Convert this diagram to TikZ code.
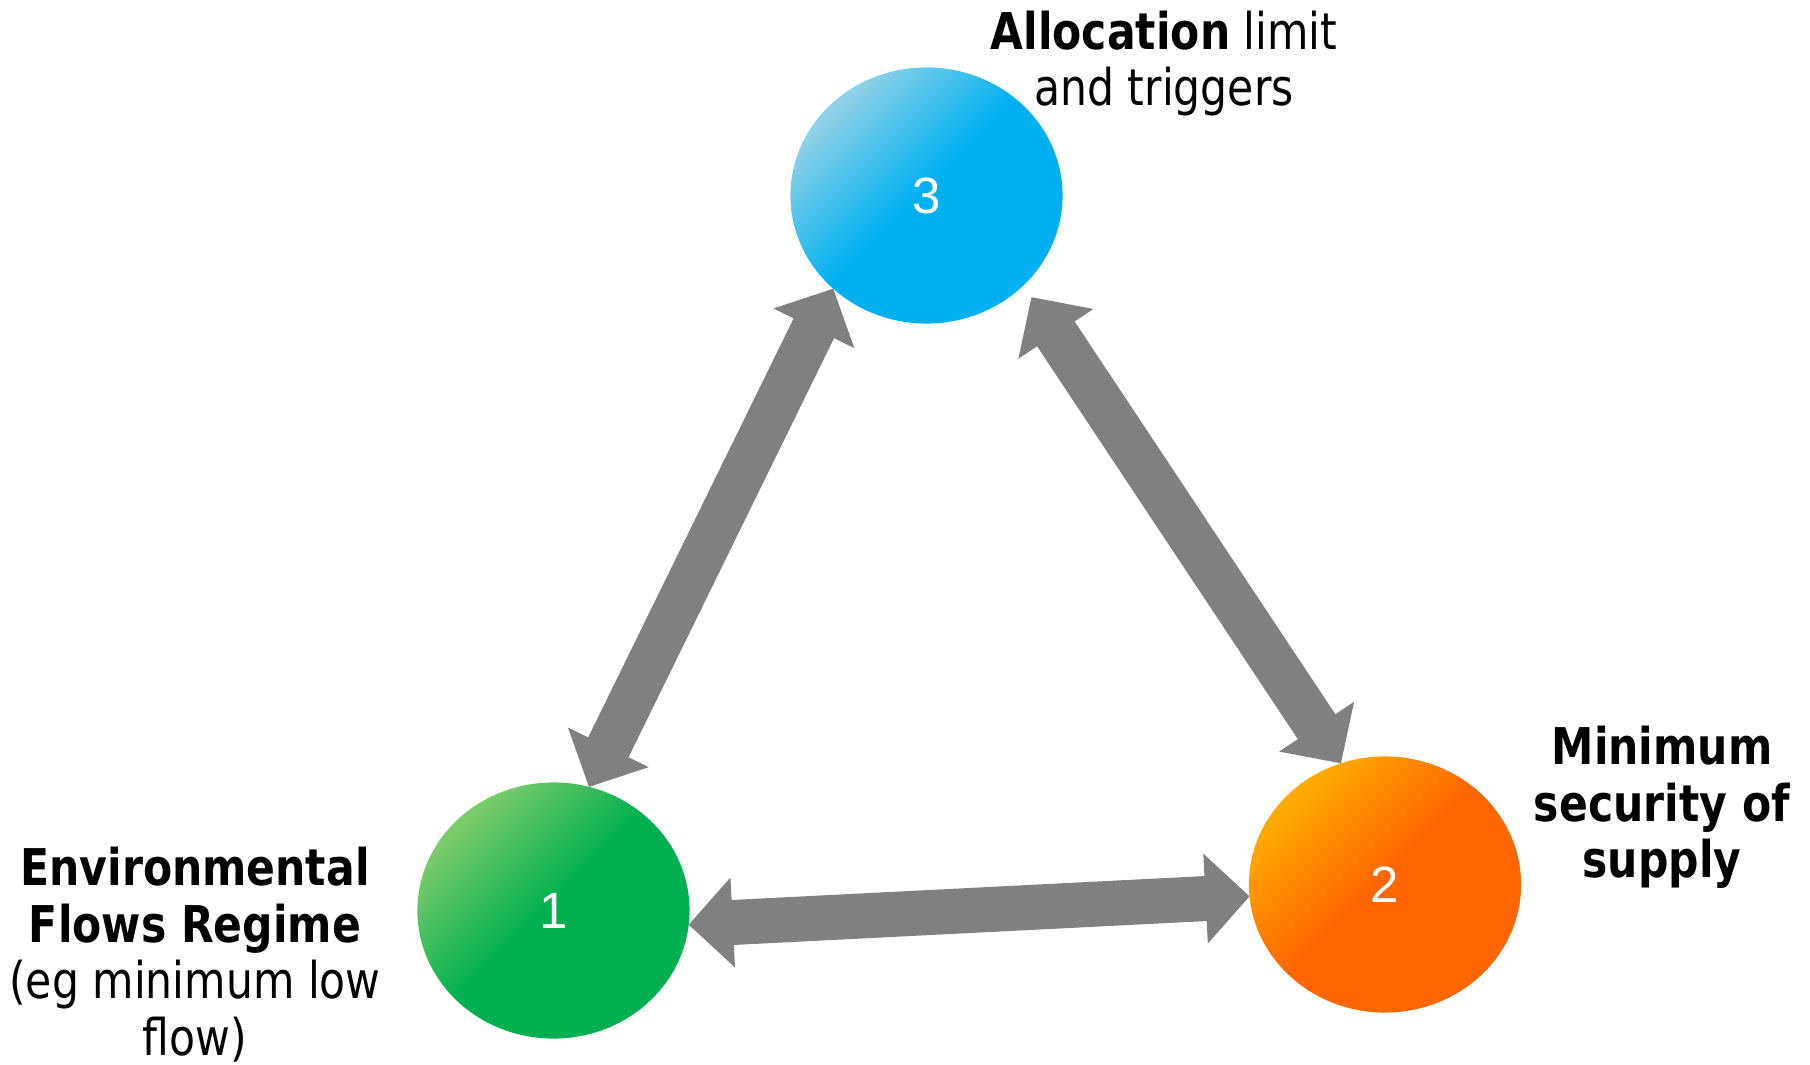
\documentclass[tikz,border=0pt]{standalone}
\usepackage{fontspec}
\setmainfont{Liberation Sans}
\newfontfamily\labelfont[FakeStretch=0.84]{DejaVu Sans}
\usetikzlibrary{shapes.geometric,calc}

% ball colours: light highlight and full tone
\definecolor{skylight}{HTML}{8ED1E8}
\definecolor{skyfull}{HTML}{00B0F0}
\definecolor{leaflight}{HTML}{7ACB6A}
\definecolor{leaffull}{HTML}{00B050}
\definecolor{emberlight}{HTML}{FFAA00}
\definecolor{emberfull}{HTML}{FF6600}
\definecolor{arrowgrey}{HTML}{808080}

\pgfdeclarehorizontalshading{skyball}{100bp}{color(0bp)=(skylight); color(26bp)=(skylight); color(49bp)=(skyfull); color(100bp)=(skyfull)}
\pgfdeclarehorizontalshading{leafball}{100bp}{color(0bp)=(leaflight); color(26bp)=(leaflight); color(49bp)=(leaffull); color(100bp)=(leaffull)}
\pgfdeclarehorizontalshading{emberball}{100bp}{color(0bp)=(emberlight); color(26bp)=(emberlight); color(49bp)=(emberfull); color(100bp)=(emberfull)}

\tikzset{
  ball/.style={ellipse, minimum width=2.72cm, minimum height=2.56cm,
    inner sep=0pt, outer sep=0pt, shade, shading angle=-45, text=white,
    font=\fontsize{14.5}{14.5}\selectfont},
  caption/.style={anchor=north, inner sep=0pt, align=center,
    font=\labelfont\fontsize{14.4}{16.07}\selectfont},
  flowarrow/.style={fill=arrowgrey}
}

% double-headed block arrow between two named points
\newcommand\twowayarrow[2]{%
  \coordinate (neckA) at ($(#1)!0.44cm!(#2)$);
  \coordinate (neckB) at ($(#2)!0.44cm!(#1)$);
  \fill[flowarrow] (#1)
    -- ($(neckA)!0.45cm!90:(#1)$)
    -- ($(neckA)!0.225cm!90:(#1)$)
    -- ($(neckB)!0.225cm!90:(#1)$)
    -- ($(neckB)!0.45cm!90:(#1)$)
    -- (#2)
    -- ($(neckB)!0.45cm!-90:(#1)$)
    -- ($(neckB)!0.225cm!-90:(#1)$)
    -- ($(neckA)!0.225cm!-90:(#1)$)
    -- ($(neckA)!0.45cm!-90:(#1)$)
    -- cycle;}

\begin{document}
\begin{tikzpicture}[x=0.01cm,y=-0.01cm]
\useasboundingbox (0,0) rectangle (1810,1065);

% the three balls
\node[ball, shading=skyball]   (c3) at (926.5,195.5) {3};
\node[ball, shading=leafball]  (c1) at (553.5,910.5) {1};
\node[ball, shading=emberball] (c2) at (1385,884.5)  {2};

% arrow end points on the ball borders
\coordinate (p13a) at (c1.74.3);
\coordinate (p13b) at (c3.225.6);
\coordinate (p12a) at (c1.-6.4);
\coordinate (p12b) at (c2.185.6);
\coordinate (p23a) at ([shift={(10,10)}]c3.-44);
\coordinate (p23b) at (c2.110.7);

\twowayarrow{p13a}{p13b}
\twowayarrow{p12a}{p12b}
\twowayarrow{p23a}{p23b}

% captions
\node[caption] (lab3) at (1164,10)
  {\textbf{Allocation} limit\\and triggers};
\node[caption] (lab2) at (1662,725.5)
  {\textbf{Minimum}\\\textbf{security of}\\\textbf{supply}};
\node[caption] (lab1) at (195,846.5)
  {\textbf{Environmental}\\\textbf{Flows Regime}\\(eg minimum low\\flow)};
\end{tikzpicture}
\end{document}
